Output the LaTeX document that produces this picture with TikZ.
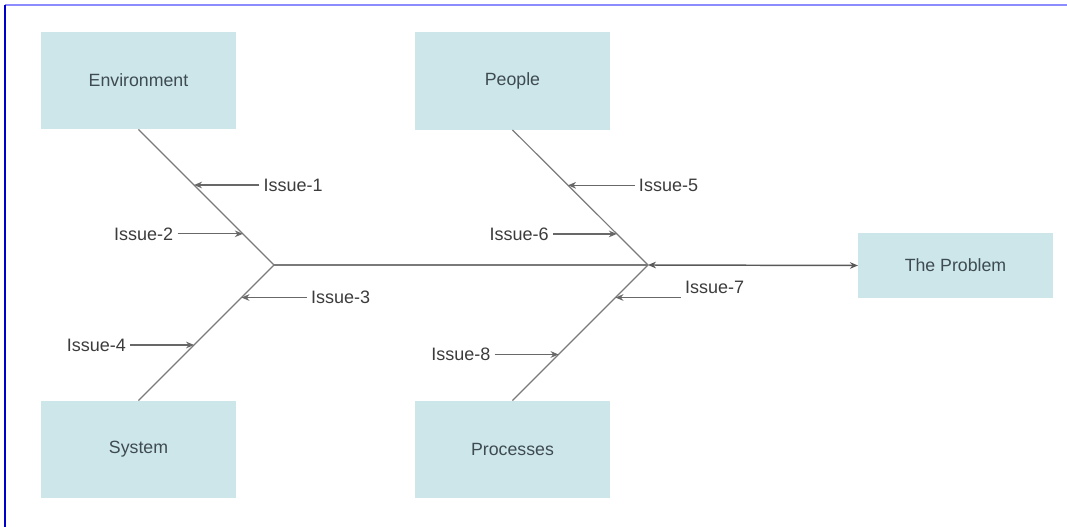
\documentclass[tikz,border=0pt]{standalone}
\usepackage{fontspec}
\setmainfont{Liberation Sans}
\usetikzlibrary{arrows.meta,positioning,calc}

\definecolor{boxfill}{HTML}{CDE6EA}
\definecolor{boxtext}{HTML}{3E4B50}
\definecolor{bonegray}{HTML}{7A7A7A}
\definecolor{labelgray}{HTML}{3C3C3C}

\begin{document}
\begin{tikzpicture}[
    x=0.75pt, y=-0.75pt,
    node distance=49pt,
    box/.style={fill=boxfill, minimum width=146pt, minimum height=73pt, align=center, text=boxtext, font=\fontsize{13.3}{15}\selectfont},
    problem/.style={box, minimum height=49pt},
    issue/.style={inner sep=3pt, text=labelgray, font=\fontsize{13.5}{15}\selectfont},
    bone/.style={draw=bonegray, line width=0.9pt},
    arrow/.style={-{Stealth[length=6pt, width=5pt]}, draw=bonegray!85!black, line width=0.9pt},
    spinearrow/.style={{Stealth[length=6pt, width=5pt]}-{Stealth[length=6pt, width=5pt]}, draw=black!65, line width=1.1pt}
]

\useasboundingbox (0,0) rectangle (1067,527);

% Frame of the page
\draw[blue!45!white, line width=1pt] (5,5) -- (1067,5);
\draw[blue!80!black, line width=1pt] (5,5) -- (5,527);

% Category boxes
\node[box] (env) at (138.5,80.5) {Environment};
\node[box] (people) at (512.5,81) {People};
\node[box] (sys) at (138.5,449.5) {System};
\node[box] (proc) at (512.5,449.5) {Processes};
\node[problem] (prob) at (955.5,265.5) {The Problem};

% Spine joints
\coordinate (tail) at (274,265);
\coordinate (head) at (648,265);

% Spine and bones
\draw[bone] (tail) -- (head);
\draw[spinearrow] (head) -- (prob.west);
\draw[bone] (env.south) -- (tail) -- (sys.north);
\draw[bone] (people.south) -- (head) -- (proc.north);

% Points on the bones
\coordinate (b1) at ($(env.south)!0.41!(tail)$);
\coordinate (b2) at ($(env.south)!0.77!(tail)$);
\coordinate (b3) at ($(tail)!0.24!(sys.north)$);
\coordinate (b4) at ($(tail)!0.59!(sys.north)$);
\coordinate (b5) at ($(people.south)!0.41!(head)$);
\coordinate (b6) at ($(people.south)!0.77!(head)$);
\coordinate (b7) at ($(head)!0.24!(proc.north)$);
\coordinate (b8) at ($(head)!0.66!(proc.north)$);

% Issues
\node[issue, right=49pt of b1] (i1) {Issue-1};
\node[issue, left=49pt of b2] (i2) {Issue-2};
\node[issue, right=49pt of b3] (i3) {Issue-3};
\node[issue, left=48pt of b4] (i4) {Issue-4};
\node[issue, right=50pt of b5] (i5) {Issue-5};
\node[issue, left=48pt of b6] (i6) {Issue-6};
\node[issue, right=49pt of b7, yshift=7.5pt] (i7) {Issue-7};
\node[issue, left=48pt of b8] (i8) {Issue-8};

\draw[arrow] (i1) -- (b1);
\draw[arrow] (i2) -- (b2);
\draw[arrow] (i3) -- (b3);
\draw[arrow] (i4) -- (b4);
\draw[arrow] (i5) -- (b5);
\draw[arrow] (i6) -- (b6);
\draw[arrow] (i7.west |- b7) -- (b7);
\draw[arrow] (i8) -- (b8);

\end{tikzpicture}
\end{document}
